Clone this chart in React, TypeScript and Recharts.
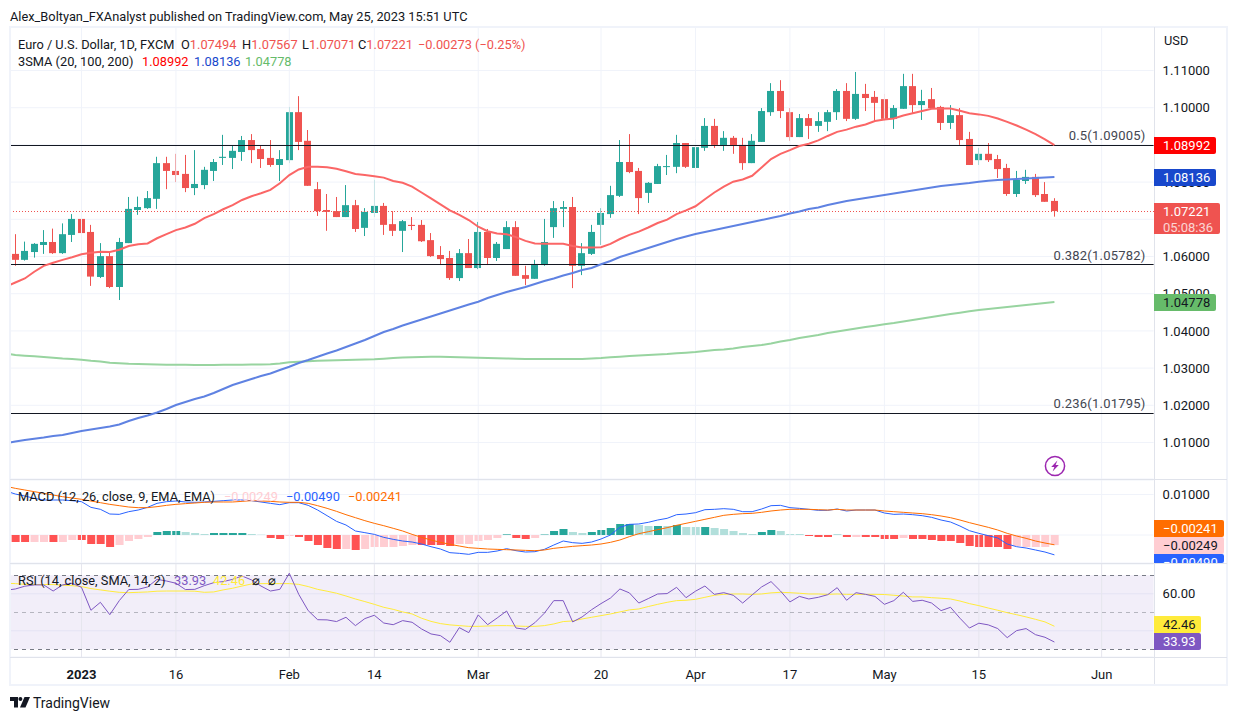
import React from "react";
import {
  Bar,
  CartesianGrid,
  Cell,
  ComposedChart,
  Line,
  ReferenceArea,
  ReferenceLine,
  XAxis,
  YAxis,
} from "recharts";

// Trading days: index 0 is Jan 2 2023, index -7 is the first candle, index -8 only feeds the averages.
const firstDay = -8;
const lastDay = 113;
const tickDays = [0, 10, 22, 31, 42, 55, 65, 75, 85, 95, 108];
const tickLabels = ["2023", "16", "Feb", "14", "Mar", "20", "Apr", "17", "May", "15", "Jun"];

const opens = [
  1.0607, 1.0591, 1.0612, 1.0631, 1.0639, 1.0609, 1.0658, 1.0701, 1.0666, 1.0545,
  1.0601, 1.0518, 1.0636, 1.0725, 1.073, 1.0755, 1.0851, 1.083, 1.0822, 1.0784,
  1.0792, 1.083, 1.0865, 1.0865, 1.0881, 1.0913, 1.0889, 1.0865, 1.0846, 1.0859,
  1.0988, 1.0911, 1.0781, 1.0725, 1.0722, 1.0706, 1.0738, 1.0677, 1.0717, 1.0736,
  1.0687, 1.0669, 1.0685, 1.0685, 1.0644, 1.0604, 1.0596, 1.0542, 1.0609, 1.0569,
  1.0666, 1.0596, 1.062, 1.0679, 1.055, 1.054, 1.0577, 1.0679, 1.0728, 1.0733,
  1.0575, 1.0607, 1.0685, 1.0714, 1.0763, 1.0854, 1.083, 1.0771, 1.0795, 1.0841,
  1.0841, 1.0905, 1.0838, 1.0892, 1.0951, 1.0897, 1.0919, 1.09, 1.0851, 1.0908,
  1.0988, 1.1045, 1.0988, 1.0921, 1.0972, 1.0951, 1.0962, 1.0988, 1.1045, 1.097,
  1.1037, 1.1029, 1.1023, 1.097, 1.0997, 1.1058, 1.1007, 1.1023, 1.1002, 1.0959,
  1.098, 1.0916, 1.0859, 1.0876, 1.0862, 1.0838, 1.0768, 1.0803, 1.0814, 1.0768, 1.07494,
];
const closes = [
  1.0591, 1.0615, 1.0634, 1.0639, 1.0609, 1.066, 1.0701, 1.0663, 1.0546, 1.0601,
  1.0518, 1.0639, 1.0728, 1.0733, 1.0757, 1.0851, 1.083, 1.0819, 1.0784, 1.0795,
  1.0833, 1.0854, 1.0868, 1.0884, 1.0913, 1.0886, 1.0862, 1.0846, 1.0862, 1.0988,
  1.0908, 1.079, 1.0722, 1.072, 1.0706, 1.0738, 1.0674, 1.072, 1.0736, 1.0685,
  1.0669, 1.0695, 1.0682, 1.0641, 1.0601, 1.0593, 1.0542, 1.0609, 1.0569, 1.0666,
  1.0596, 1.0634, 1.0679, 1.0548, 1.054, 1.058, 1.0639, 1.073, 1.0733, 1.0575,
  1.0609, 1.0666, 1.0717, 1.0765, 1.0854, 1.0827, 1.0757, 1.0798, 1.0843, 1.0843,
  1.0905, 1.0841, 1.0894, 1.0951, 1.09, 1.0919, 1.0897, 1.0851, 1.0911, 1.0991,
  1.1045, 1.0991, 1.0921, 1.0972, 1.0951, 1.0964, 1.0988, 1.1045, 1.097, 1.1037,
  1.1026, 1.1013, 1.097, 1.0999, 1.1058, 1.1007, 1.1018, 1.0999, 1.0959, 1.098,
  1.0913, 1.0846, 1.0876, 1.0859, 1.0835, 1.0768, 1.0806, 1.0814, 1.0765, 1.0747, 1.07221,
];
const highs = [
  1.066, 1.064, 1.0636, 1.0671, 1.0675, 1.0689, 1.0714, 1.0701, 1.0685, 1.0636,
  1.0612, 1.065, 1.076, 1.0761, 1.0776, 1.0868, 1.0868, 1.0876, 1.0873, 1.0886,
  1.0841, 1.0862, 1.0927, 1.0897, 1.0924, 1.0929, 1.0897, 1.0913, 1.0886, 1.1002,
  1.1031, 1.094, 1.08, 1.0768, 1.076, 1.0792, 1.0752, 1.073, 1.0806, 1.0744,
  1.0722, 1.0698, 1.0706, 1.0698, 1.0663, 1.0628, 1.0615, 1.062, 1.0647, 1.0693,
  1.0674, 1.0639, 1.0695, 1.0695, 1.0575, 1.0591, 1.0701, 1.0749, 1.0749, 1.076,
  1.0636, 1.0685, 1.073, 1.079, 1.0913, 1.0929, 1.0838, 1.08, 1.0849, 1.0873,
  1.0927, 1.0905, 1.0916, 1.0972, 1.097, 1.0937, 1.0924, 1.0919, 1.0929, 1.0999,
  1.1066, 1.1074, 1.0999, 1.0983, 1.0983, 1.0988, 1.0994, 1.105, 1.1066, 1.1096,
  1.1064, 1.1045, 1.1037, 1.1007, 1.1091, 1.1091, 1.1048, 1.1053, 1.1005, 1.1007,
  1.0999, 1.0935, 1.0892, 1.0905, 1.0873, 1.0849, 1.083, 1.0833, 1.0822, 1.08, 1.07567,
];
const lows = [
  1.0575, 1.0589, 1.0597, 1.0607, 1.0607, 1.0607, 1.0639, 1.065, 1.0521, 1.0542,
  1.0515, 1.0483, 1.0636, 1.0712, 1.0728, 1.0728, 1.0781, 1.08, 1.0773, 1.0765,
  1.0781, 1.0803, 1.0846, 1.0835, 1.0857, 1.0851, 1.0838, 1.0841, 1.0803, 1.0851,
  1.0886, 1.079, 1.0709, 1.0669, 1.0706, 1.0706, 1.0666, 1.0655, 1.0706, 1.0658,
  1.0655, 1.0612, 1.0671, 1.0639, 1.0599, 1.0577, 1.0537, 1.0534, 1.0569, 1.0566,
  1.0577, 1.0588, 1.062, 1.0548, 1.0523, 1.054, 1.0575, 1.065, 1.0679, 1.0515,
  1.055, 1.0604, 1.0631, 1.0704, 1.076, 1.0824, 1.0714, 1.0744, 1.0795, 1.0819,
  1.0824, 1.0838, 1.079, 1.0884, 1.0892, 1.0884, 1.0876, 1.0833, 1.0851, 1.0908,
  1.0978, 1.0972, 1.0911, 1.0921, 1.0916, 1.0935, 1.0937, 1.0967, 1.0964, 1.0967,
  1.0991, 1.0962, 1.0964, 1.0943, 1.0997, 1.0986, 1.0967, 1.0999, 1.094, 1.0943,
  1.09, 1.0846, 1.0846, 1.0854, 1.0811, 1.0763, 1.076, 1.0795, 1.076, 1.0747, 1.07071,
];

const sma20 = [
  1.0519, 1.053, 1.0541, 1.0559, 1.0575, 1.0583, 1.0591, 1.0598, 1.0606, 1.061, 1.0613,
  1.0612, 1.0618, 1.0628, 1.0633, 1.0635, 1.0649, 1.066, 1.0671, 1.0678, 1.0688,
  1.0703, 1.0714, 1.0727, 1.0738, 1.0752, 1.0762, 1.077, 1.0779, 1.0797, 1.0819,
  1.0834, 1.0841, 1.0841, 1.084, 1.0836, 1.0829, 1.0822, 1.0819, 1.0816, 1.0812,
  1.0803, 1.0798, 1.0788, 1.0772, 1.0756, 1.074, 1.0724, 1.0712, 1.0698, 1.068,
  1.0668, 1.0662, 1.066, 1.0652, 1.0642, 1.0635, 1.0634, 1.0634, 1.0634, 1.0628,
  1.0624, 1.0624, 1.0625, 1.0634, 1.0647, 1.0658, 1.0667, 1.0678, 1.069, 1.0699,
  1.0714, 1.0724, 1.0735, 1.0754, 1.0772, 1.0788, 1.0801, 1.0807, 1.0817, 1.0839,
  1.0862, 1.0876, 1.0886, 1.0897, 1.0903, 1.0912, 1.0924, 1.0935, 1.0941, 1.0949,
  1.0955, 1.0964, 1.0968, 1.0971, 1.0979, 1.0985, 1.0991, 1.0997, 1.0998, 1.0998,
  1.0992, 1.0985, 1.0982, 1.0978, 1.0971, 1.0962, 1.0952, 1.0941, 1.0929, 1.0915, 1.08992,
];
const sma100 = [
  1.0098, 1.01026, 1.01067, 1.01102, 1.01134, 1.01174, 1.01201, 1.01255, 1.01309, 1.01349, 1.01389,
  1.0143, 1.01484, 1.01578, 1.01658, 1.01725, 1.01806, 1.019, 1.02008, 1.02088, 1.02169,
  1.02236, 1.0233, 1.02438, 1.02545, 1.02626, 1.02707, 1.02787, 1.02855, 1.02949, 1.03037,
  1.03137, 1.03217, 1.03306, 1.03392, 1.03473, 1.03567, 1.03661, 1.03755, 1.03863, 1.0397,
  1.04051, 1.04145, 1.04226, 1.04306, 1.04387, 1.04467, 1.04548, 1.04629, 1.04709, 1.04785,
  1.04884, 1.04965, 1.05045, 1.05113, 1.0518, 1.05261, 1.05341, 1.05408, 1.05489, 1.05556,
  1.05637, 1.05691, 1.0579, 1.05879, 1.05986, 1.06067, 1.06148, 1.06228, 1.06309, 1.0639,
  1.0647, 1.06537, 1.06605, 1.06658, 1.06712, 1.06766, 1.0682, 1.06873, 1.06927, 1.06981,
  1.07035, 1.07088, 1.07156, 1.07209, 1.07277, 1.07317, 1.07384, 1.07438, 1.07492, 1.07532,
  1.07572, 1.07613, 1.07653, 1.07693, 1.07734, 1.07774, 1.07814, 1.07855, 1.07895, 1.07922,
  1.07949, 1.07976, 1.0801, 1.08037, 1.08056, 1.0807, 1.08083, 1.08097, 1.0811, 1.08123, 1.08136,
];
const sma200 = [
  1.03392, 1.03352, 1.03333, 1.03317, 1.03298, 1.03279, 1.03258, 1.03244, 1.03225, 1.03198, 1.03177,
  1.03144, 1.03128, 1.03115, 1.03109, 1.03101, 1.03096, 1.03093, 1.0309, 1.03088, 1.03082,
  1.03082, 1.03085, 1.03088, 1.0309, 1.03093, 1.03096, 1.03098, 1.03104, 1.03123, 1.03155,
  1.03171, 1.03185, 1.03198, 1.03203, 1.03212, 1.03217, 1.03222, 1.0323, 1.03238, 1.03252,
  1.0327, 1.03284, 1.03292, 1.03298, 1.03306, 1.03306, 1.033, 1.03295, 1.03287, 1.03279,
  1.0327, 1.03265, 1.03258, 1.03252, 1.03247, 1.03244, 1.03244, 1.03244, 1.03244, 1.03244,
  1.03244, 1.03258, 1.0327, 1.0329, 1.03306, 1.03325, 1.03338, 1.03352, 1.03368, 1.03378,
  1.03397, 1.03413, 1.03432, 1.03459, 1.03486, 1.03499, 1.03526, 1.03567, 1.03594, 1.03621,
  1.03661, 1.03715, 1.03755, 1.03809, 1.03849, 1.03889, 1.03943, 1.03984, 1.04024, 1.04064,
  1.04105, 1.0414, 1.04177, 1.04212, 1.04253, 1.04293, 1.04333, 1.04374, 1.04414, 1.04454,
  1.04489, 1.04527, 1.04562, 1.04589, 1.04616, 1.04643, 1.04669, 1.04696, 1.04723, 1.0475, 1.04778,
];

const macdLine = [
  0.01086, 0.01012, 0.00963, 0.00905, 0.00864, 0.00864, 0.00864, 0.00848, 0.00823, 0.00683, 0.00634,
  0.00518, 0.0051, 0.00576, 0.00617, 0.00683, 0.00782, 0.00823, 0.00839, 0.00815, 0.00807,
  0.00815, 0.00831, 0.00848, 0.00864, 0.00864, 0.00848, 0.00815, 0.00782, 0.00749, 0.00798,
  0.00798, 0.00732, 0.00617, 0.00477, 0.00337, 0.00247, 0.00099, 0.00058, 0.00016, -0.00058,
  -0.00107, -0.00148, -0.00173, -0.00222, -0.00288, -0.00346, -0.00436, -0.00453, -0.00477, -0.00428,
  -0.00428, -0.00395, -0.00337, -0.00387, -0.0042, -0.00412, -0.00354, -0.00247, -0.00148, -0.00189,
  -0.00206, -0.00173, -0.00099, 0, 0.00189, 0.00263, 0.00272, 0.00313, 0.0037, 0.00412,
  0.00502, 0.00518, 0.00551, 0.00625, 0.00634, 0.0065, 0.00634, 0.00576, 0.00576, 0.00642,
  0.00724, 0.00732, 0.00675, 0.00658, 0.00634, 0.00609, 0.00609, 0.00642, 0.00593, 0.00617,
  0.00617, 0.00617, 0.00543, 0.0051, 0.00518, 0.00502, 0.00477, 0.00436, 0.0037, 0.00321,
  0.00222, 0.00107, 0.00041, -0.00016, -0.00074, -0.00222, -0.00288, -0.00321, -0.0037, -0.0042, -0.0049,
];
const macdSignal = [
  0.01202, 0.01152, 0.01111, 0.0107, 0.01029, 0.00988, 0.00946, 0.00914, 0.00881, 0.00839, 0.00798,
  0.00757, 0.00724, 0.00691, 0.00675, 0.00675, 0.007, 0.00732, 0.00757, 0.00774, 0.0079,
  0.00807, 0.00815, 0.00815, 0.00815, 0.00831, 0.00848, 0.00839, 0.00831, 0.00815, 0.00807,
  0.00807, 0.00782, 0.00724, 0.00658, 0.00584, 0.00502, 0.00428, 0.00354, 0.00288, 0.0023,
  0.00165, 0.00099, 0.00016, -0.00058, -0.00123, -0.00181, -0.0023, -0.00272, -0.00313, -0.00329,
  -0.00346, -0.00354, -0.00362, -0.0037, -0.00379, -0.00387, -0.0037, -0.00329, -0.00305, -0.0028,
  -0.00263, -0.00247, -0.00222, -0.00181, -0.00123, -0.00041, 0.00033, 0.00082, 0.00132, 0.00181,
  0.00239, 0.00288, 0.00337, 0.00387, 0.00436, 0.00486, 0.0051, 0.00527, 0.00535, 0.0056,
  0.00593, 0.00617, 0.00634, 0.00634, 0.00634, 0.00625, 0.00617, 0.00634, 0.00617, 0.00617,
  0.00617, 0.00617, 0.00593, 0.00576, 0.0056, 0.00543, 0.00527, 0.00502, 0.00469, 0.00428,
  0.0037, 0.00305, 0.00247, 0.00189, 0.00123, 0.00041, -0.00025, -0.00082, -0.00148, -0.00198, -0.00241,
];
const macdHist = [
  -0.00173, -0.00173, -0.00173, -0.00173, -0.00173, -0.00173, -0.00123, -0.00123, -0.00222, -0.00222,
  -0.00296, -0.00247, -0.00148, -0.00099, -0.00049, 0.00074, 0.00099, 0.00099, 0.00074, 0.00049,
  0.00025, 0.00049, 0.00049, 0.00049, 0.00049, 0.00025, 0.00008, -0.00074, -0.00099, -0.00025,
  -0.00049, -0.00148, -0.00247, -0.00321, -0.00346, -0.00346, -0.0037, -0.00346, -0.00296, -0.00296,
  -0.00296, -0.00272, -0.00247, -0.00247, -0.00247, -0.00247, -0.00272, -0.00222, -0.00222, -0.00148,
  -0.00123, -0.00074, 0.00016, -0.00074, -0.00099, -0.00074, 0.00012, 0.00099, 0.00148, 0.00074,
  0.00049, 0.00074, 0.00123, 0.00173, 0.00272, 0.00272, 0.00247, 0.00222, 0.00222, 0.00222,
  0.00247, 0.00198, 0.00198, 0.00198, 0.00173, 0.00148, 0.00099, 0.00049, 0.00025, 0.00074,
  0.00123, 0.00099, 0.00025, 0.00025, -0.00025, -0.00049, -0.00049, 0.00008, -0.00049, -0.00049,
  -0.00049, -0.00049, -0.00099, -0.00099, -0.00074, -0.00099, -0.00099, -0.00123, -0.00148, -0.00148,
  -0.00198, -0.00272, -0.00296, -0.00296, -0.00296, -0.00346, -0.00272, -0.00296, -0.00296, -0.00296, -0.00249,
];
// "d" marks the saturated histogram bars, "l" the pale ones.
const macdHistTone = [
  "ddlldllddd", "dlllldddll", "lddddllddl", "dddddldlll", "lllddddlll", "lldddldddl",
  "ldddddlldl", "dlldllllld", "dllldddddl", "ddddlddddd", "ddddddlllll",
].join("");

const rsi = [
  61.9, 62.6, 64.1, 64.8, 64.8, 61.5, 64.8, 65.7, 63.5, 51.1, 55.4,
  48.7, 56.3, 62.3, 62.4, 63.7, 67.8, 66.9, 65.7, 62.3, 62.4,
  64.4, 66.0, 66.6, 67.8, 69.6, 67.5, 64.2, 61.5, 62.4, 71.1,
  59.7, 50.9, 46.0, 45.9, 45.0, 47.3, 42.8, 46.6, 48.4, 44.2,
  43.3, 45.5, 44.6, 41.0, 38.3, 37.4, 33.8, 41.7, 39.0, 48.6,
  43.3, 46.9, 50.7, 41.5, 40.8, 44.4, 49.5, 56.3, 56.3, 44.8,
  47.5, 51.4, 54.7, 57.7, 62.6, 60.5, 55.0, 57.4, 59.9, 60.1,
  63.5, 57.9, 61.4, 64.2, 59.7, 60.6, 59.2, 55.0, 59.4, 63.7,
  66.6, 61.5, 55.6, 58.6, 57.2, 58.1, 59.5, 63.3, 56.5, 60.6,
  59.7, 58.6, 54.3, 56.3, 60.8, 55.9, 56.5, 55.0, 50.9, 52.7,
  46.8, 41.5, 44.1, 43.2, 41.2, 36.3, 40.1, 41.2, 37.9, 36.5, 33.93,
];
const rsiMa = [
  65.7, 65.5, 65.1, 65.0, 65.0, 65.0, 64.6, 64.4, 63.9, 62.8, 62.1,
  61.4, 60.8, 60.6, 60.8, 61.0, 61.4, 61.5, 61.5, 61.5, 61.4,
  60.8, 61.0, 62.1, 63.0, 64.2, 65.3, 65.5, 65.5, 65.5, 65.5,
  65.1, 63.9, 62.4, 61.4, 60.3, 58.8, 57.2, 55.8, 54.3, 52.7,
  51.6, 50.2, 49.1, 46.8, 45.1, 43.9, 43.2, 42.8, 42.4, 42.4,
  42.6, 42.8, 42.8, 42.6, 42.4, 42.4, 42.8, 43.7, 45.0, 45.3,
  46.4, 47.3, 48.2, 49.1, 50.2, 51.3, 51.8, 53.1, 54.3, 55.4,
  56.3, 56.5, 57.0, 58.1, 59.2, 59.7, 59.9, 59.9, 59.7, 59.9,
  60.5, 60.8, 60.6, 60.3, 59.9, 59.9, 59.7, 59.9, 59.7, 59.7,
  59.7, 59.7, 59.6, 59.2, 58.8, 58.3, 58.3, 57.9, 57.6, 57.2,
  56.1, 54.7, 53.6, 52.3, 51.1, 49.8, 48.7, 47.5, 46.2, 44.8, 42.46,
];

const priceTicks = [1.01, 1.02, 1.03, 1.04, 1.05, 1.06, 1.07, 1.08, 1.09, 1.1, 1.11];
const macdTicks = [0, 0.01];
const rsiTicks = [40, 60];
const fibLevels = [
  { price: 1.09005, label: "0.5(1.09005)" },
  { price: 1.05782, label: "0.382(1.05782)" },
  { price: 1.01795, label: "0.236(1.01795)" },
];
const lastClose = 1.07221;

const UP = "#26a69a";
const DOWN = "#ef5350";
const GRID = "#f0f3fa";
const FONT = "Roboto, 'Liberation Sans', sans-serif";

const rows = [];
for (let day = firstDay; day <= lastDay; day++) {
  const s = day - firstDay;
  const c = s - 1;
  rows.push({
    day,
    open: c >= 0 && c < opens.length ? opens[c] : null,
    close: c >= 0 && c < closes.length ? closes[c] : null,
    high: c >= 0 && c < highs.length ? highs[c] : null,
    low: c >= 0 && c < lows.length ? lows[c] : null,
    hist: c >= 0 && c < macdHist.length ? macdHist[c] : null,
    tone: c >= 0 ? macdHistTone[c] : null,
    sma20: s < sma20.length ? sma20[s] : null,
    sma100: s < sma100.length ? sma100[s] : null,
    sma200: s < sma200.length ? sma200[s] : null,
    macd: s < macdLine.length ? macdLine[s] : null,
    signal: s < macdSignal.length ? macdSignal[s] : null,
    rsi: s < rsi.length ? rsi[s] : null,
    rsiMa: s < rsiMa.length ? rsiMa[s] : null,
  });
}

const W = 1238;
const PLOT_LEFT = 1.2;
const AXIS_W = 84.4;
const chartMargin = { top: 0, right: 0, bottom: 0, left: PLOT_LEFT };

function Candle(props: any) {
  const { x, y, width, height, payload } = props;
  if (payload.high == null) return null;
  const range = payload.high - payload.low || 1e-9;
  const perUnit = height / range;
  const cx = Math.round(x + width / 2 - 0.5) + 0.5;
  const top = y + (payload.high - Math.max(payload.open, payload.close)) * perUnit;
  const bodyH = Math.max(1, Math.abs(payload.open - payload.close) * perUnit);
  const color = payload.close >= payload.open ? UP : DOWN;
  return (
    <g>
      <line x1={cx} x2={cx} y1={y} y2={y + height} stroke={color} strokeWidth={1} />
      <rect x={cx - 3.5} y={top} width={7} height={bodyH} fill={color} />
    </g>
  );
}

// Snaps a horizontal level to one device pixel row, as the original chart does.
function SnappedLevel(props: any) {
  const row = Math.floor(props.y1 + 0.3) + 0.5;
  return <line x1={props.x1} x2={props.x2} y1={row} y2={row} stroke="#131722" strokeWidth={1} />;
}

function histColor(row: any) {
  if (row.hist == null) return "transparent";
  const strong = row.tone === "d";
  if (row.hist >= 0) return strong ? "#26a69a" : "#b2dfdb";
  return strong ? "#ff5252" : "#ffcdd2";
}

function TimeTick(props: any) {
  const { x, y, payload } = props;
  const idx = tickDays.indexOf(payload.value);
  const bold = idx === 0;
  return (
    <text
      x={x}
      y={y + 14}
      textAnchor="middle"
      fontFamily={FONT}
      fontSize={13}
      fontWeight={bold ? 700 : 400}
      fill="#131722"
    >
      {tickLabels[idx]}
    </text>
  );
}

function FibLabel(props: any) {
  const { viewBox, value } = props;
  return (
    <text
      x={viewBox.x + viewBox.width - 8}
      y={viewBox.y - 4.5}
      textAnchor="end"
      fontFamily={FONT}
      fontSize={13}
      letterSpacing={0.22}
      fill="#434651"
    >
      {value}
    </text>
  );
}

const axisTick = { fontSize: 13, fill: "#131722", fontFamily: FONT };

function Panel({ top, height, children }: any) {
  return <div style={{ position: "absolute", left: 0, top, width: W, height }}>{children}</div>;
}

function Tag({ top, height, width, bg, color, text, sub }: any) {
  return (
    <div
      style={{
        position: "absolute",
        left: 1154,
        top,
        width,
        height,
        background: bg,
        color,
        fontFamily: FONT,
        fontSize: 13,
        lineHeight: "17px",
        textAlign: "left",
        paddingLeft: 9,
        boxSizing: "border-box",
        borderRadius: "0 2px 2px 0",
        overflow: "hidden",
      }}
    >
      <div style={{ whiteSpace: "nowrap" }}>{text}</div>
      {sub ? <div style={{ whiteSpace: "nowrap", marginTop: -1, opacity: 0.75 }}>{sub}</div> : null}
    </div>
  );
}

function T({ left, top, color = "#131722", size = 12.8, children }: any) {
  return (
    <span
      style={{
        position: "absolute",
        left,
        top,
        color,
        fontFamily: FONT,
        fontSize: size,
        lineHeight: "16px",
        whiteSpace: "nowrap",
      }}
    >
      {children}
    </span>
  );
}

function Box({ left, top, width, height, bg }: any) {
  return <div style={{ position: "absolute", left, top, width, height, background: bg }} />;
}

export default function App() {
  return (
    <div style={{ position: "absolute", left: 0, top: 0, width: W, height: 720, background: "#fff", overflow: "hidden" }}>
      <Panel top={27} height={452}>
        <ComposedChart width={W} height={452} data={rows} margin={chartMargin} barCategoryGap={0}>
          <CartesianGrid stroke={GRID} vertical={false} />
          <XAxis dataKey="day" type="category" scale="band" hide />
          <YAxis
            orientation="right"
            width={AXIS_W}
            domain={[1.00019, 1.12169]}
            ticks={priceTicks}
            interval={0}
            allowDataOverflow
            axisLine={false}
            tickLine={false}
            tickSize={0}
            tickMargin={9}
            tick={axisTick}
            tickFormatter={(v: number) => v.toFixed(5)}
          />
          {tickDays.map((d) => (
            <ReferenceLine key={d} x={d} stroke={GRID} />
          ))}
          <Bar
            dataKey={(d: any) => (d.high == null ? null : [d.low, d.high])}
            shape={<Candle />}
            isAnimationActive={false}
          />
          <ReferenceLine y={lastClose} stroke={DOWN} strokeDasharray="1 2" shapeRendering="crispEdges" />
          {fibLevels.map((f) => (
            <ReferenceLine
              key={f.price}
              y={f.price}
              stroke="#131722"
              strokeWidth={1}
              shape={SnappedLevel}
              label={<FibLabel value={f.label} />}
            />
          ))}
          <Line dataKey="sma200" stroke="#98d4a0" strokeWidth={2} dot={false} isAnimationActive={false} />
          <Line dataKey="sma100" stroke="#5f82e2" strokeWidth={2} dot={false} isAnimationActive={false} />
          <Line dataKey="sma20" stroke="#fb6666" strokeWidth={2} dot={false} isAnimationActive={false} />
        </ComposedChart>
      </Panel>

      <Panel top={480} height={83}>
        <ComposedChart width={W} height={83} data={rows} margin={chartMargin} barCategoryGap={0}>
          <CartesianGrid stroke={GRID} vertical={false} />
          <XAxis dataKey="day" type="category" scale="band" hide />
          <YAxis
            orientation="right"
            width={AXIS_W}
            domain={[-0.00691, 0.01358]}
            ticks={macdTicks}
            interval={0}
            allowDataOverflow
            axisLine={false}
            tickLine={false}
            tickSize={0}
            tickMargin={9}
            tick={axisTick}
            tickFormatter={(v: number) => v.toFixed(5)}
          />
          {tickDays.map((d) => (
            <ReferenceLine key={d} x={d} stroke={GRID} />
          ))}
          <Bar dataKey="hist" barSize={8} isAnimationActive={false}>
            {rows.map((r) => (
              <Cell key={r.day} fill={histColor(r)} />
            ))}
          </Bar>
          <Line dataKey="macd" stroke="#2962ff" strokeWidth={1} dot={false} isAnimationActive={false} />
          <Line dataKey="signal" stroke="#ff6d00" strokeWidth={1} dot={false} isAnimationActive={false} />
        </ComposedChart>
      </Panel>

      <Panel top={564} height={120}>
        <ComposedChart width={W} height={120} data={rows} margin={chartMargin} barCategoryGap={0}>
          <ReferenceArea y1={30} y2={70} fill="#7e57c2" fillOpacity={0.1} stroke="none" />
          <CartesianGrid stroke={GRID} vertical={false} />
          <XAxis
            dataKey="day"
            type="category"
            scale="band"
            height={27}
            ticks={tickDays}
            interval={0}
            axisLine={false}
            tickLine={false}
            tick={<TimeTick />}
          />
          <YAxis
            orientation="right"
            width={AXIS_W}
            domain={[25.84, 76.1]}
            ticks={rsiTicks}
            interval={0}
            allowDataOverflow
            axisLine={false}
            tickLine={false}
            tickSize={0}
            tickMargin={9}
            tick={axisTick}
            tickFormatter={(v: number) => v.toFixed(2)}
          />
          {tickDays.map((d) => (
            <ReferenceLine key={d} x={d} stroke="#e6e6ee" />
          ))}
          <ReferenceLine y={70} stroke="#787b86" strokeDasharray="4 4" shapeRendering="crispEdges" />
          <ReferenceLine y={50} stroke="#787b86" strokeOpacity={0.5} strokeDasharray="4 4" shapeRendering="crispEdges" />
          <ReferenceLine y={30} stroke="#787b86" strokeDasharray="4 4" shapeRendering="crispEdges" />
          <Line dataKey="rsiMa" stroke="#ffeb3b" strokeWidth={1} dot={false} isAnimationActive={false} />
          <Line dataKey="rsi" stroke="#7e57c2" strokeWidth={1} dot={false} isAnimationActive={false} />
        </ComposedChart>
      </Panel>

      {/* masks the area left of the chart frame */}
      <Box left={0} top={27} width={9} height={660} bg="#fff" />

      {/* frame and separators */}
      <Box left={9} top={26} width={1219} height={2} bg="#f0f3fa" />
      <Box left={9} top={684} width={1219} height={2} bg="#f0f3fa" />
      <Box left={9} top={26} width={2} height={660} bg="#f0f3fa" />
      <Box left={1226} top={26} width={2} height={660} bg="#f0f3fa" />
      <Box left={10} top={479} width={1217} height={1} bg="#e0e3eb" />
      <Box left={10} top={563} width={1217} height={1} bg="#e0e3eb" />
      <Box left={10} top={657} width={1217} height={1} bg="#e0e3eb" />
      <Box left={1154} top={27} width={1} height={657} bg="#e0e3eb" />

      {/* header */}
      <T left={10} top={9}>Alex_Boltyan_FXAnalyst published on TradingView.com, May 25, 2023 15:51 UTC</T>
      <T left={18} top={37}>Euro / U.S. Dollar, 1D, FXCM</T>
      <T left={181} top={37}>O<span style={{ color: DOWN }}>1.07494</span></T>
      <T left={242} top={37}>H<span style={{ color: DOWN }}>1.07567</span></T>
      <T left={302} top={37}>L<span style={{ color: DOWN }}>1.07071</span></T>
      <T left={358} top={37}>C<span style={{ color: DOWN }}>1.07221</span></T>
      <T left={418} top={37} color={DOWN}>−0.00273 (−0.25%)</T>
      <T left={18} top={53.5}>3SMA (20, 100, 200)</T>
      <T left={142} top={53.5} color="#ff0000">1.08992</T>
      <T left={194} top={53.5} color="#1848cc">1.08136</T>
      <T left={245} top={53.5} color="#66bb6a">1.04778</T>
      <T left={1164} top={33}>USD</T>

      {/* MACD legend */}
      <T left={18} top={489}>MACD (12, 26, close, 9, EMA, EMA)</T>
      <T left={224} top={489} color="#ffcdd2">−0.00249</T>
      <T left={286} top={489} color="#2962ff">−0.00490</T>
      <T left={348} top={489} color="#ff6d00">−0.00241</T>

      {/* RSI legend */}
      <T left={18} top={573}>RSI (14, close, SMA, 14, 2)</T>
      <T left={174} top={573} color="#7e57c2">33.93</T>
      <T left={213} top={573} color="#ffeb3b">42.46</T>
      <T left={252} top={573}>⌀</T>
      <T left={268} top={573}>⌀</T>

      {/* price tags */}
      <Tag top={137} height={17} width={62} bg="#ff0000" color="#fff" text="1.08992" />
      <Tag top={169} height={17} width={62} bg="#1848cc" color="#fff" text="1.08136" />
      <Tag top={203} height={31} width={66} bg={DOWN} color="#fff" text="1.07221" sub="05:08:36" />
      <Tag top={294} height={17} width={62} bg="#66bb6a" color="#131722" text="1.04778" />
      <Tag top={520} height={17} width={70} bg="#ff6d00" color="#fff" text="−0.00241" />
      <Tag top={537} height={17} width={70} bg="#ffcdd2" color="#131722" text="−0.00249" />
      <Tag top={554} height={9} width={70} bg="#2962ff" color="#fff" text="−0.00490" />
      <Tag top={616} height={17} width={47} bg="#ffeb3b" color="#131722" text="42.46" />
      <Tag top={633} height={17} width={47} bg="#7e57c2" color="#fff" text="33.93" />

      {/* lightning marker */}
      <svg style={{ position: "absolute", left: 1044, top: 455 }} width={22} height={22} viewBox="0 0 22 22">
        <circle cx={11} cy={11} r={9.6} fill="#fff" stroke="#9c27b0" strokeWidth={1.5} />
        <path d="M13.4 5.6 L7.2 12 H10.4 L8.6 16.4 L14.8 10 H11.6 Z" fill="#9c27b0" />
      </svg>

      {/* brand */}
      <svg style={{ position: "absolute", left: 10, top: 697 }} width={20} height={11} viewBox="0 0 20 11">
        <path d="M0 0 H8 V10.5 H4 V4 H0 Z" fill="#131722" />
        <circle cx={10.4} cy={2} r={2} fill="#131722" />
        <path d="M14.5 0 H20 L15.5 10.5 H10 Z" fill="#131722" />
      </svg>
      <T left={33} top={695} size={14}>TradingView</T>
    </div>
  );
}
